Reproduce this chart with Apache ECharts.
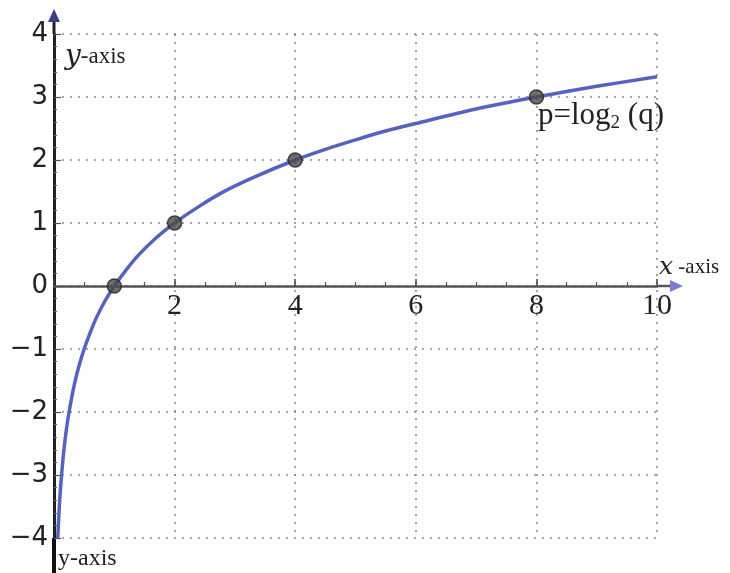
<!DOCTYPE html>
<html>
<head>
<meta charset="utf-8">
<script src="https://cdn.jsdelivr.net/npm/echarts@6/dist/echarts.min.js"></script>
<style>
  html, body { margin: 0; padding: 0; background: #fff; }
  #chart { width: 730px; height: 573px; }
</style>
</head>
<body>
<div id="chart"></div>
<script>
// curve p = log2(q)
const curveX = [0.0625, 0.08, 0.1, 0.125, 0.15, 0.18, 0.22, 0.25, 0.3, 0.35, 0.42, 0.5, 0.6, 0.7, 0.85, 1, 1.2, 1.4, 1.7, 2, 2.4, 2.8, 3.3, 4, 4.5, 5, 5.5, 6, 7, 8, 9, 10]
const curveY = [-4, -3.64, -3.32, -3, -2.74, -2.47, -2.18, -2, -1.74, -1.51, -1.25, -1, -0.74, -0.51, -0.23, 0, 0.26, 0.49, 0.77, 1, 1.26, 1.49, 1.72, 2, 2.17, 2.32, 2.46, 2.58, 2.81, 3, 3.17, 3.32]
// marked points
const dotX = [1, 2, 4, 8]
const dotY = [0, 1, 2, 3]

const chart = echarts.init(document.getElementById('chart'))

const gridDot = { color: '#8a8a8a', type: [2, 6], width: 1.6 }

chart.setOption({
  animation: false,
  grid: { left: 54, right: 73, top: 34, bottom: 35 },
  xAxis: {
    type: 'value',
    min: 0,
    max: 10,
    interval: 2,
    offset: -252,
    axisLine: { onZero: false, lineStyle: { color: '#555', width: 2.5 } },
    axisTick: { show: true, inside: true, length: 7, lineStyle: { color: '#444', width: 1.5 } },
    minorTick: { show: true, splitNumber: 4, length: 4, lineStyle: { color: '#555', width: 1.2 } },
    axisLabel: {
      fontSize: 30,
      color: '#222',
      fontFamily: 'Liberation Serif',
      margin: 5,
      formatter: v => (v === 0 ? '' : String(v))
    },
    splitLine: { show: true, lineStyle: gridDot }
  },
  yAxis: {
    type: 'value',
    min: -4,
    max: 4,
    interval: 1,
    axisLine: { lineStyle: { color: '#222', width: 3 } },
    axisTick: { show: true, inside: true, length: 7, lineStyle: { color: '#555', width: 1.2 } },
    minorTick: { show: true, splitNumber: 5, length: 3, lineStyle: { color: '#666', width: 1 } },
    axisLabel: {
      fontSize: 26,
      color: '#222',
      fontFamily: 'DejaVu Sans',
      margin: 6,
      formatter: v => (v < 0 ? '\u2212' + Math.abs(v) : String(v))
    },
    splitLine: { show: true, lineStyle: gridDot }
  },
  series: [
    {
      type: 'line',
      data: curveX.map((x, i) => [x, curveY[i]]),
      smooth: 0.3,
      symbol: 'none',
      lineStyle: { color: '#5662c2', width: 3.5 },
      z: 3
    },
    {
      type: 'scatter',
      data: dotX.map((x, i) => [x, dotY[i]]),
      symbolSize: 14,
      itemStyle: { color: '#4a4a4a', borderColor: '#222', borderWidth: 1.5 },
      z: 4
    }
  ]
})

// axis extensions, arrows and labels
const pO = chart.convertToPixel({ gridIndex: 0 }, [0, 0])
const pTop = chart.convertToPixel({ gridIndex: 0 }, [0, 4])
const pBot = chart.convertToPixel({ gridIndex: 0 }, [0, -4])
const pEnd = chart.convertToPixel({ gridIndex: 0 }, [10, 0])

chart.setOption({
  graphic: [
    { type: 'line', shape: { x1: pO[0], y1: pTop[1], x2: pO[0], y2: 20 }, style: { stroke: '#222', lineWidth: 3 } },
    { type: 'line', shape: { x1: pO[0], y1: pBot[1], x2: pO[0], y2: 573 }, style: { stroke: '#111', lineWidth: 4 } },
    { type: 'polygon', shape: { points: [[pO[0], 9], [pO[0] - 6, 22], [pO[0] + 6, 22]] }, style: { fill: '#3a3f86' } },
    { type: 'line', shape: { x1: pEnd[0], y1: pO[1], x2: 672, y2: pO[1] }, style: { stroke: '#555', lineWidth: 2.5 } },
    { type: 'polygon', shape: { points: [[683, pO[1]], [670, pO[1] - 6], [670, pO[1] + 6]] }, style: { fill: '#7a7ad6' } },
    {
      type: 'text', left: 65, top: 43,
      style: {
        text: '{i|y}-axis',
        font: '23px "Liberation Serif"',
        fill: '#222',
        rich: { i: { fontStyle: 'italic', fontSize: 28, fontFamily: 'DejaVu Serif', fill: '#222' } }
      }
    },
    {
      type: 'text', left: 659, top: 255,
      style: {
        text: '{i|x} -axis',
        font: '21px "Liberation Serif"',
        fill: '#222',
        rich: { i: { fontStyle: 'italic', fontSize: 25, fontFamily: 'DejaVu Serif', fill: '#222' } }
      }
    },
    {
      type: 'text', left: 58, top: 547,
      style: { text: 'y-axis', font: '24px "Liberation Serif"', fill: '#222' }
    },
    {
      type: 'text', left: 538, top: 100,
      style: {
        text: 'p=log{s|2} (q)',
        font: '31px "Liberation Serif"',
        fill: '#222',
        rich: { s: { fontSize: 19, fontFamily: 'Liberation Serif', padding: [16, 0, 0, 0], fill: '#222' } }
      }
    }
  ]
})
</script>
</body>
</html>
